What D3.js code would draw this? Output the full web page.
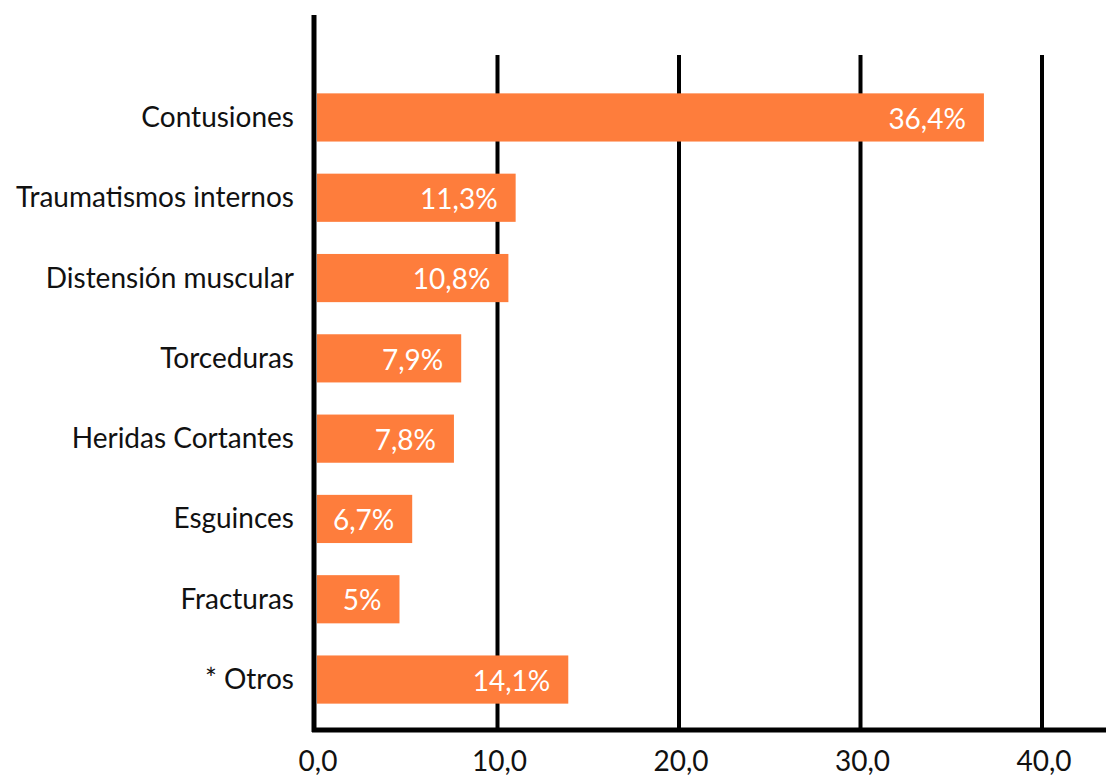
<!DOCTYPE html>
<html>
<head>
<meta charset="utf-8">
<script src="https://cdn.jsdelivr.net/npm/d3@7"></script>
<style>
  html, body { margin: 0; padding: 0; background: #fff; }
  svg { display: block; }
  text { font-family: Lato, "Open Sans", sans-serif; }
</style>
</head>
<body>
<svg id="chart" width="1106" height="776"></svg>
<script>
// Categories (top to bottom)
const categories = [
  "Contusiones",
  "Traumatismos internos",
  "Distensión muscular",
  "Torceduras",
  "Heridas Cortantes",
  "Esguinces",
  "Fracturas",
  "* Otros"
];
// Bar lengths as drawn in the picture (axis units)
const barLengths = [36.8, 11.0, 10.6, 8.0, 7.6, 5.3, 4.6, 13.9];
// Value labels printed on the bars
const valueLabels = ["36,4%", "11,3%", "10,8%", "7,9%", "7,8%", "6,7%", "5%", "14,1%"];
// Axis ticks
const tickValues = [0, 10, 20, 30, 40];
const tickLabels = ["0,0", "10,0", "20,0", "30,0", "40,0"];

const svg = d3.select("#chart");

const x = d3.scaleLinear().domain([0, 40]).range([316, 1042]);
const y = d3.scaleBand().domain(categories).range([77.3, 719.7])
  .paddingInner(0.4).paddingOuter(0.2);

const baseY = 730;

// Gridlines
svg.append("g").selectAll("line")
  .data(tickValues.filter(d => d > 0))
  .join("line")
  .attr("x1", d => x(d)).attr("x2", d => x(d))
  .attr("y1", 55).attr("y2", baseY)
  .attr("stroke", "#000").attr("stroke-width", 4);

// Bars
svg.append("g").selectAll("rect")
  .data(categories)
  .join("rect")
  .attr("x", x(0) + 1)
  .attr("y", d => y(d))
  .attr("width", (d, i) => x(barLengths[i]) - x(0) - 1)
  .attr("height", y.bandwidth())
  .attr("fill", "#FE7D3C");

// Value labels
svg.append("g").selectAll("text")
  .data(categories)
  .join("text")
  .attr("x", (d, i) => x(barLengths[i]) - 18)
  .attr("y", d => y(d) + y.bandwidth() / 2)
  .attr("dy", "0.4em")
  .attr("text-anchor", "end")
  .attr("fill", "#fff")
  .attr("font-size", 28)
  .text((d, i) => valueLabels[i]);

// Category labels
svg.append("g").selectAll("text")
  .data(categories)
  .join("text")
  .attr("x", 294)
  .attr("y", d => y(d) + y.bandwidth() / 2)
  .attr("dy", "0.34em")
  .attr("text-anchor", "end")
  .attr("fill", "#111")
  .attr("font-size", 28)
  .text(d => d);

// Vertical axis line
svg.append("line")
  .attr("x1", 314).attr("x2", 314)
  .attr("y1", 15).attr("y2", baseY + 2)
  .attr("stroke", "#000").attr("stroke-width", 5);

// Baseline
svg.append("line")
  .attr("x1", 312).attr("x2", 1106)
  .attr("y1", baseY).attr("y2", baseY)
  .attr("stroke", "#000").attr("stroke-width", 5);

// Tick labels
svg.append("g").selectAll("text")
  .data(tickValues)
  .join("text")
  .attr("x", d => x(d) + 2)
  .attr("y", 771)
  .attr("text-anchor", "middle")
  .attr("fill", "#111")
  .attr("font-size", 28)
  .text((d, i) => tickLabels[i]);
</script>
</body>
</html>
